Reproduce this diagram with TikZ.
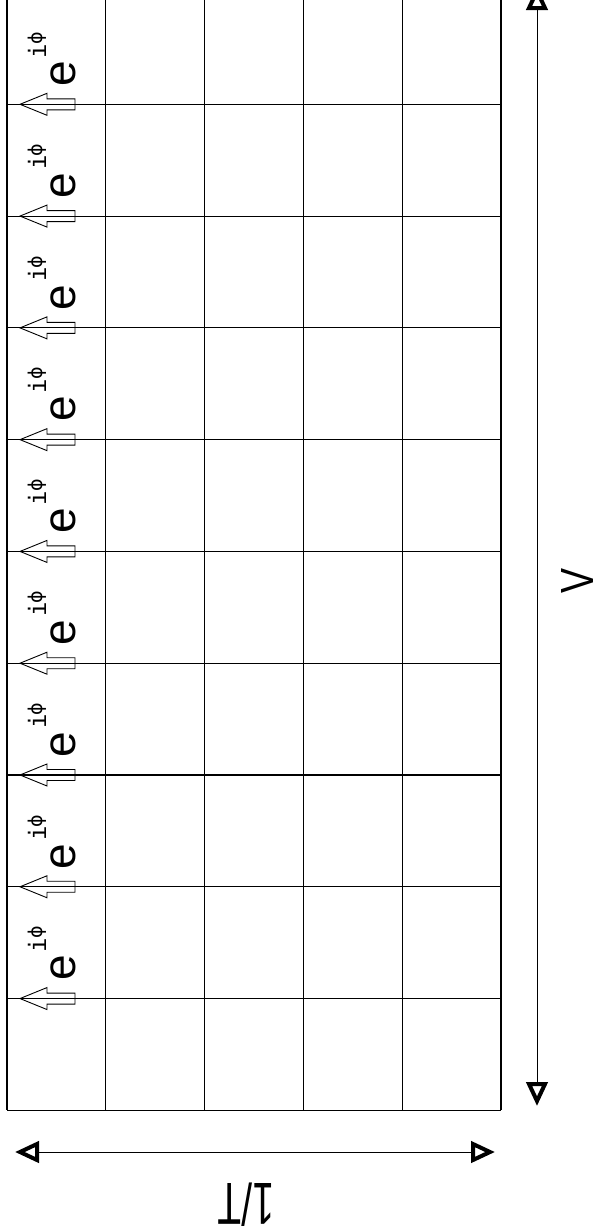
\documentclass[tikz,border=0pt]{standalone}
\usepackage{fontspec}
\usepackage{graphicx}
\setmainfont{Liberation Sans}
\newfontfamily\djv{DejaVu Sans}
\newfontfamily\djvmono{DejaVu Sans Mono}
\begin{document}
\begin{tikzpicture}[x=1pt,y=-1pt,
  gridline/.style={line width=1.1pt},
  hollowarrow/.style={line width=0.9pt},
  dimline/.style={line width=1pt,shorten <=17pt,shorten >=17pt},
  dimtip/.style={line width=4pt,line join=miter,miter limit=3,fill=white},
  lbl/.style={inner sep=0pt}]
\useasboundingbox (0,0) rectangle (600,1232);
% grid
\foreach \i in {0,...,5}
  \draw[gridline] ({7+98.8*\i},-7.5) -- ({7+98.8*\i},1110.3);
\foreach \j in {0,...,10}
  \draw[gridline] (7,{-7.5+111.78*\j}) -- (501,{-7.5+111.78*\j});
% hollow arrows and phase labels
\foreach \k in {0,...,8} {
  \pgfmathsetmacro\L{104.3+111.78*\k}
  \draw[hollowarrow] (20,\L) -- (47,{\L-11}) -- (47,{\L-5.5}) -- (75,{\L-5.5})
     -- (75,{\L+5.5}) -- (47,{\L+5.5}) -- (47,{\L+11}) -- cycle;
  \node[lbl,rotate=90,anchor=base west] (phase\k) at (75,{\L-17.5})
    {\fontsize{46}{46}\selectfont e\kern3pt\raisebox{29pt}{\fontsize{24}{24}\djvmono i}\kern-1pt\raisebox{33pt}{\fontsize{19}{19}\djv ϕ}};
}
% dimension arrows
\coordinate (vtop) at (537,-9);
\coordinate (vbot) at (537,1101);
\draw[dimline] (vtop) -- (vbot);
\draw[dimtip] (vtop) -- ++(8,17) -- ++(-16,0) -- cycle;
\draw[dimtip] (vbot) -- ++(8,-17) -- ++(-16,0) -- cycle;
\node[lbl,rotate=90] (vlab) at (577,581) {\resizebox{25pt}{32pt}{V}};
\coordinate (hleft) at (20,1152);
\coordinate (hright) at (490,1152);
\draw[dimline] (hleft) -- (hright);
\draw[dimtip] (hleft) -- ++(17,8) -- ++(0,-16) -- cycle;
\draw[dimtip] (hright) -- ++(-17,8) -- ++(0,-16) -- cycle;
\node[lbl,rotate=180] (tlab) at (246,1205) {\resizebox{56pt}{43pt}{1/T}};
\end{tikzpicture}
\end{document}
